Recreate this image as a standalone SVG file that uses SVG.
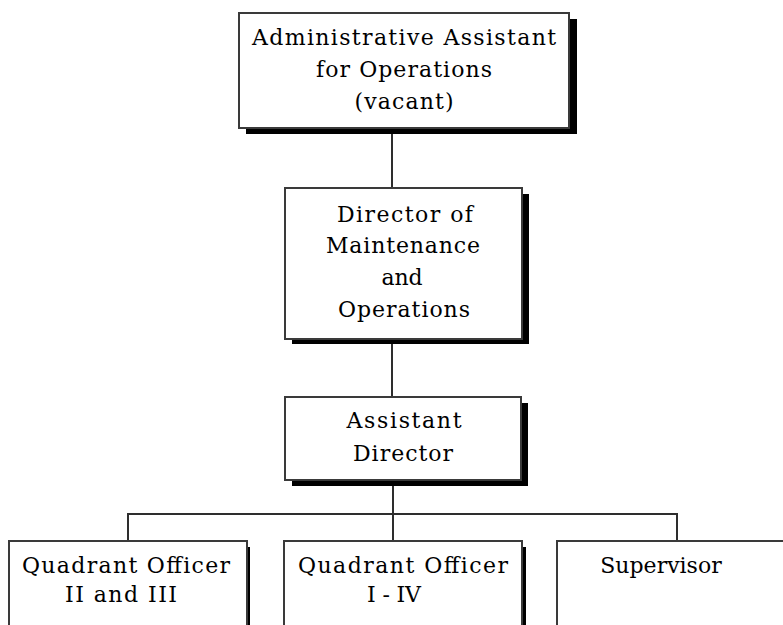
<svg xmlns="http://www.w3.org/2000/svg" width="783" height="625" viewBox="0 0 783 625">
  <style>
    .box { fill: #ffffff; stroke: #3a3a3a; stroke-width: 2; }
    .shadow { fill: #000000; }
    .label { font-size: 22px; fill: #000000; text-anchor: middle; }
    .wire { fill: none; stroke: #2e2e2e; stroke-width: 2; }
  </style>
  <rect width="783" height="625" fill="#ffffff"/>

  <!-- connectors -->
  <g id="connectors">
    <line class="wire" x1="392" y1="128" x2="392" y2="188"/>
    <line class="wire" x1="392" y1="339" x2="392" y2="397"/>
    <line class="wire" x1="393" y1="480" x2="393" y2="541"/>
    <line class="wire" x1="128" y1="514" x2="677" y2="514"/>
    <line class="wire" x1="128" y1="513" x2="128" y2="541"/>
    <line class="wire" x1="677" y1="513" x2="677" y2="541"/>
  </g>

  <g font-family="DejaVu Serif, Liberation Serif, serif">
    <!-- top: administrative assistant -->
    <g id="admin-assistant">
      <rect class="shadow" x="246" y="19" width="331" height="115"/>
      <rect class="box" x="239" y="13" width="330" height="115"/>
      <text class="label" x="404" y="45" textLength="304" lengthAdjust="spacing">Administrative Assistant</text>
      <text class="label" x="404" y="77" textLength="176" lengthAdjust="spacing">for Operations</text>
      <text class="label" x="404" y="109" textLength="99" lengthAdjust="spacing">(vacant)</text>
    </g>

    <!-- director -->
    <g id="director">
      <rect class="shadow" x="292" y="194" width="237" height="150"/>
      <rect class="box" x="285" y="188" width="237" height="151"/>
      <text class="label" x="405" y="222" textLength="136" lengthAdjust="spacing">Director of</text>
      <text class="label" x="403" y="253" textLength="154" lengthAdjust="spacing">Maintenance</text>
      <text class="label" x="402" y="285" textLength="41" lengthAdjust="spacing">and</text>
      <text class="label" x="404" y="317" textLength="132" lengthAdjust="spacing">Operations</text>
    </g>

    <!-- assistant director -->
    <g id="assistant-director">
      <rect class="shadow" x="292" y="403" width="236" height="83"/>
      <rect class="box" x="285" y="397" width="236" height="83"/>
      <text class="label" x="404" y="428" textLength="115" lengthAdjust="spacing">Assistant</text>
      <text class="label" x="403" y="461" textLength="100" lengthAdjust="spacing">Director</text>
    </g>

    <!-- bottom row -->
    <g id="quadrant-2-3">
      <rect class="shadow" x="14" y="547" width="236" height="90"/>
      <rect class="box" x="9" y="541" width="238" height="95"/>
      <text class="label" x="126" y="573" textLength="208" lengthAdjust="spacing">Quadrant Officer</text>
      <text class="label" x="121" y="602" textLength="112" lengthAdjust="spacing">II and III</text>
    </g>

    <g id="quadrant-1-4">
      <rect class="shadow" x="289" y="547" width="237" height="90"/>
      <rect class="box" x="284" y="541" width="238" height="95"/>
      <text class="label" x="403" y="573" textLength="210" lengthAdjust="spacing">Quadrant Officer</text>
      <text class="label" x="394" y="602" textLength="54" lengthAdjust="spacing">I - IV</text>
    </g>

    <g id="supervisor">
      <rect class="box" x="557" y="541" width="240" height="95"/>
      <text class="label" x="661" y="573">Supervisor</text>
    </g>
  </g>
</svg>
